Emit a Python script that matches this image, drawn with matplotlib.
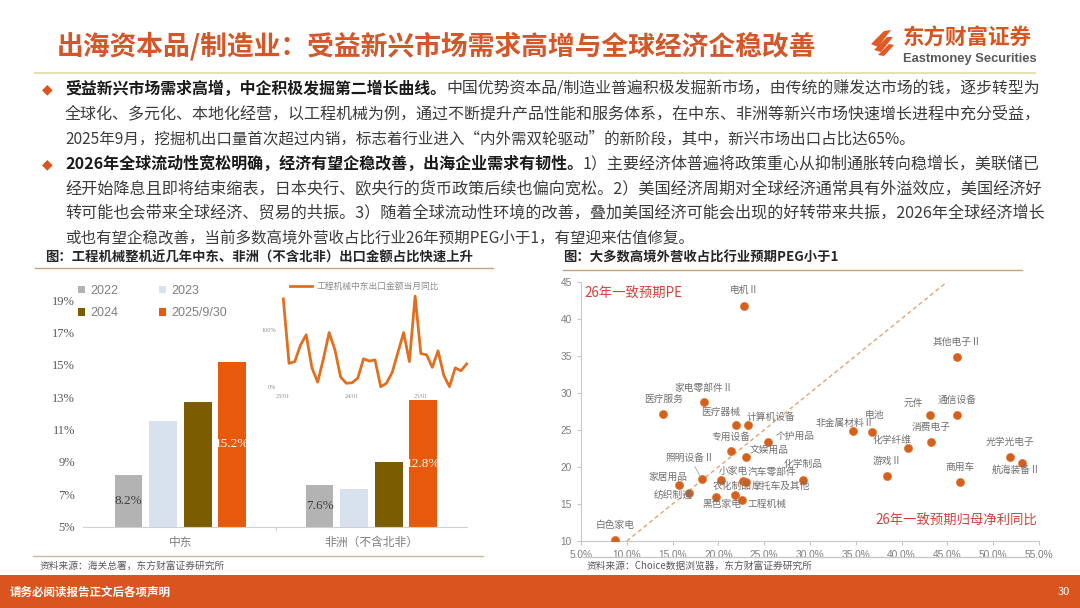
import matplotlib
matplotlib.use('Agg')
import matplotlib.pyplot as plt
from matplotlib.patches import Rectangle, Polygon
from matplotlib.lines import Line2D

plt.rcParams['font.family'] = ['Noto Sans CJK SC', 'DejaVu Sans']
plt.rcParams['axes.unicode_minus'] = False

# ---------------- data ----------------
bar_categories = ['中东', '非洲（不含北非）']
bar_series = ['2022', '2023', '2024', '2025/9/30']
share_2022 = [8.2, 7.6]
share_2023 = [11.5, 7.3]
share_2024 = [12.7, 9.0]
share_2025 = [15.2, 12.8]
bar_label_series = {'2022': ['8.2%', '7.6%'], '2025/9/30': ['15.2%', '12.8%']}
bar_yticks = [5, 7, 9, 11, 13, 15, 17, 19]

inset_months = [f'{y}/{m:02d}' for y in (23, 24, 25) for m in range(1, 13)][:33]
inset_yoy = [154, 41, 44, 73, 91, 33, 8, 49, 95, 65, 17, 6, 7, 15, 49, 45,
             47, 0, 6, 25, 60, 95, 44, 159, 58, 56, 34, 63, 20, 0, 33, 28, 40]
inset_tick_labels = ['23/01', '24/01', '25/01']
inset_legend = '工程机械中东出口金额当月同比'

scatter_names = ['电机Ⅱ', '其他电子Ⅱ', '医疗服务', '家电零部件Ⅱ', '医疗器械', '计算机设备',
                 '个护用品', '专用设备', '文娱用品', '照明设备Ⅱ', '小家电', '汽车零部件',
                 '摩托车及其他', '化学制品', '家居用品', '纺织制造', '黑色家电', '农化制品',
                 '工程机械', '白色家电', '非金属材料Ⅱ', '电池', '化学纤维', '游戏Ⅱ', '元件',
                 '通信设备', '消费电子', '商用车', '光学光电子', '航海装备Ⅱ']
scatter_growth = [22.8, 46.0, 14.0, 18.4, 21.9, 23.2, 25.4, 21.4, 23.0, 18.2, 20.3, 22.7,
                  23.0, 29.2, 15.7, 16.8, 19.7, 21.8, 22.6, 8.7, 34.7, 36.8, 40.7, 38.4,
                  43.1, 46.1, 43.2, 46.4, 51.8, 53.1]
scatter_pe = [41.7, 34.8, 27.1, 28.7, 25.7, 25.6, 23.3, 22.1, 21.4, 18.3, 18.2, 18.1,
              17.9, 18.2, 17.5, 16.5, 16.0, 16.2, 15.5, 10.1, 24.8, 24.7, 22.5, 18.8,
              27.0, 27.0, 23.4, 18.0, 21.3, 20.5]
peg_line = [10, 45.5]
scatter_xticks = [5, 10, 15, 20, 25, 30, 35, 40, 45, 50, 55]
scatter_yticks = [10, 15, 20, 25, 30, 35, 40, 45]

# label offsets in pixels (dx right, dy down) -- layout only
label_offsets = [(0, -16), (0, -15), (0, -15), (0, -15), (-15, -13), (23, -8),
                 (27, -7), (0, -14), (23, -7), (-12, -22), (12, -9), (29, -9),
                 (35, 3), (0, -16), (-11, -9), (-16, 2), (6, 7), (-3, -9),
                 (25, 4), (0, -15), (-8, -8), (2, -17), (-16, -8), (0, -15), (-17, -12),
                 (0, -15), (0, -15), (0, -15), (0, -15), (-6, 7)]

# ---------------- figure helpers ----------------
W, H = 1080, 608
fig = plt.figure(figsize=(10.8, 6.08), dpi=100)
fig.patch.set_facecolor('white')


def fx(x):
    return x / W


def fy(y):
    return 1 - y / H


def ax_rect(l, t, r, b):
    return [l / W, 1 - b / H, (r - l) / W, (b - t) / H]


def hline(x0, x1, y, color, lw=1.0):
    fig.add_artist(Line2D([fx(x0), fx(x1)], [fy(y), fy(y)], color=color, lw=lw,
                          transform=fig.transFigure))


ORANGE = '#d9541e'
renderer = fig.canvas.get_renderer()

# ---------------- header ----------------
fig.text(fx(57), fy(46), '出海资本品/制造业：受益新兴市场需求高增与全球经济企稳改善',
         fontsize=19.3, fontweight='bold', color='#d4572a', va='center', ha='left')
# logo mark
for pts in ([(871, 44), (884, 31), (891, 30), (878, 47)],
            [(874, 50), (887, 37), (893, 37), (881, 52)],
            [(878, 55), (889, 44), (894, 45), (884, 56)]):
    fig.add_artist(Polygon([(fx(a), fy(b)) for a, b in pts], closed=True,
                           facecolor='#e05a26', edgecolor='none', transform=fig.transFigure))
fig.text(fx(903), fy(38), '东方财富证券', fontsize=15.5, fontweight='bold', color=ORANGE,
         va='center', ha='left')
fig.text(fx(903), fy(59), 'Eastmoney Securities', fontsize=9.3, fontweight='bold',
         color='#595959', va='center', ha='left', family=['Liberation Sans', 'DejaVu Sans'])
hline(35, 1035, 73, '#e6e0b4', 1.5)

# ---------------- body text ----------------
BODY_FS = 11.2
paragraphs = [
    [([("受益新兴市场需求高增，中企积极发掘第二增长曲线。", True),
       ("中国优势资本品/制造业普遍积极发掘新市场，由传统的赚发达市场的钱，逐步转型为", False)], True),
     ([("全球化、多元化、本地化经营，以工程机械为例，通过不断提升产品性能和服务体系，在中东、非洲等新兴市场快速增长进程中充分受益，", False)], True),
     ([("2025年9月，挖掘机出口量首次超过内销，标志着行业进入“内外需双轮驱动”的新阶段，其中，新兴市场出口占比达65%。", False)], False)],
    [([("2026年全球流动性宽松明确，经济有望企稳改善，出海企业需求有韧性。", True),
       ("1）主要经济体普遍将政策重心从抑制通胀转向稳增长，美联储已", False)], True),
     ([("经开始降息且即将结束缩表，日本央行、欧央行的货币政策后续也偏向宽松。2）美国经济周期对全球经济通常具有外溢效应，美国经济好", False)], True),
     ([("转可能也会带来全球经济、贸易的共振。3）随着全球流动性环境的改善，叠加美国经济可能会出现的好转带来共振，2026年全球经济增长", False)], True),
     ([("或也有望企稳改善，当前多数高境外营收占比行业26年预期PEG小于1，有望迎来估值修复。", False)], False)],
]


def draw_line(parts, x0, y, fs):
    x = x0
    arts = []
    for txt, bold in parts:
        t = fig.text(fx(x), fy(y), txt, fontsize=fs, fontweight='bold' if bold else 'normal',
                     color='#1a1a1a' if bold else '#3c3c3c', va='center', ha='left')
        x += t.get_window_extent(renderer=renderer).width
        arts.append(t)
    return arts, x - x0


y = 89
for para in paragraphs:
    fig.text(fx(47), fy(y), '◆', fontsize=10, color=ORANGE, va='center', ha='center',
             family=['DejaVu Sans'])
    for parts, justify in para:
        arts, w = draw_line(parts, 65, y, BODY_FS)
        if justify:
            target = 1040 - 65
            fs = BODY_FS * target / w
            fs = max(min(fs, BODY_FS * 1.08), BODY_FS * 0.92)
            for a in arts:
                a.remove()
            draw_line(parts, 65, y, fs)
        y += 25

# ---------------- chart titles & rules ----------------
fig.text(fx(45), fy(258), '图：工程机械整机近几年中东、非洲（不含北非）出口金额占比快速上升',
         fontsize=9.6, fontweight='bold', color='#262626', va='center', ha='left')
hline(35, 493, 268, '#c9a27e', 1.0)
fig.text(fx(563), fy(258), '图：大多数高境外营收占比行业预期PEG小于1',
         fontsize=9.6, fontweight='bold', color='#262626', va='center', ha='left')
hline(563, 1022, 270, '#c9a27e', 1.0)

hline(33, 483, 556, '#c9b8a6', 1.0)
hline(583, 1028, 557, '#c8c8c8', 1.0)
fig.text(fx(40), fy(566), '资料来源：海关总署，东方财富证券研究所', fontsize=7,
         color='#595959', va='center', ha='left')
fig.text(fx(587), fy(566), '资料来源：Choice数据浏览器，东方财富证券研究所', fontsize=7,
         color='#595959', va='center', ha='left')

# ---------------- footer ----------------
fig.add_artist(Rectangle((0, 0), 1, 1 - 575 / H, transform=fig.transFigure,
                         facecolor=ORANGE, edgecolor='none'))
fig.text(fx(10), fy(592), '请务必阅读报告正文后各项声明', fontsize=8.3, fontweight='bold',
         color='white', va='center', ha='left')
fig.text(fx(1064), fy(592), '30', fontsize=8, color='white', va='center', ha='center')

# ---------------- left bar chart ----------------
SERIF = ['Liberation Serif', 'Noto Sans CJK SC']
ax1 = fig.add_axes(ax_rect(83, 283.85, 467, 526.7))
bar_colors = ['#b3b3b3', '#d8e1ee', '#7b5d00', '#e8590c']
series_vals = [share_2022, share_2023, share_2024, share_2025]
offsets = [-1.5, -0.5, 0.5, 1.5]
spacing, width = 0.181, 0.145
xs = list(range(len(bar_categories)))
handles = {}
for name, vals, col, off in zip(bar_series, series_vals, bar_colors, offsets):
    heights = [v - 5 for v in vals]
    bars = ax1.bar([x + off * spacing for x in xs], heights, width=width, bottom=5,
                   color=col, label=name)
    handles[name] = bars
    if name in bar_label_series:
        tc = 'white' if name == '2025/9/30' else '#404040'
        ax1.bar_label(bars, labels=bar_label_series[name], label_type='center',
                      fontsize=9.5, color=tc, family=SERIF)
ax1.set_xlim(-0.51, 1.5)
ax1.set_ylim(5, 20)
ax1.set_yticks(bar_yticks)
ax1.set_yticklabels([f'{v}%' for v in bar_yticks], family=SERIF, fontsize=9, color='#595959')
ax1.set_xticks(xs)
ax1.set_xticklabels(bar_categories, fontsize=8.5, color='#7f7f7f')
ax1.set_xticks([0.5], minor=True)
ax1.tick_params(axis='x', which='major', length=0, pad=6.5)
ax1.tick_params(axis='x', which='minor', length=3, color='#d0d0d0')
ax1.tick_params(axis='y', length=0, pad=5.8)
for s in ('top', 'right', 'left'):
    ax1.spines[s].set_visible(False)
ax1.spines['bottom'].set_color('#d0d0d0')
ax1.patch.set_alpha(0)
leg_order = ['2022', '2024', '2023', '2025/9/30']  # row-wise reading: 2022 2023 / 2024 2025
leg = ax1.legend([handles[n] for n in leg_order], leg_order, ncol=2, loc='center left',
                 bbox_to_anchor=(fx(78), fy(302)),
                 bbox_transform=fig.transFigure, frameon=False, borderpad=0,
                 borderaxespad=0, handlelength=0.55, handleheight=0.55,
                 handletextpad=0.4, columnspacing=3.3, labelspacing=0.85,
                 prop={'family': ['Liberation Sans'], 'size': 9})
for t in leg.get_texts():
    t.set_color('#7f7f7f')

# ---------------- inset line chart ----------------
ax2 = fig.add_axes(ax_rect(283.3, 289.8, 466.7, 386.7))
ax2.plot(range(len(inset_yoy)), inset_yoy, color='#e07020', lw=2, clip_on=False,
         label=inset_legend)
ax2.set_xlim(0, len(inset_yoy) - 1)
ax2.set_ylim(0, 170)
ax2.set_yticks([0, 100])
ax2.set_yticklabels(['0%', '100%'], fontsize=4.5, color='#909090', family=SERIF)
ax2.set_xticks([inset_months.index(m) for m in inset_tick_labels])
ax2.set_xticklabels(inset_tick_labels, fontsize=4.5, color='#909090', family=SERIF)
ax2.tick_params(length=0, pad=5)
for s in ax2.spines.values():
    s.set_visible(False)
ax2.patch.set_alpha(0)
leg2 = ax2.legend(loc='center left', bbox_to_anchor=(fx(290), fy(286.7)),
                  bbox_transform=fig.transFigure, frameon=False, borderpad=0,
                  borderaxespad=0, handlelength=2.5, handletextpad=0.5,
                  prop={'size': 6.3})
for t in leg2.get_texts():
    t.set_color('#8c8c8c')

# ---------------- scatter ----------------
ax3 = fig.add_axes(ax_rect(581, 281.6, 1039, 541))
ax3.plot(peg_line, peg_line, color='#e3a472', lw=1, ls=(0, (3, 2.2)), zorder=1)
ax3.scatter(scatter_growth, scatter_pe, s=34, color='#d4601c', edgecolors='#e07a3a',
            linewidths=0.5, zorder=3)
for name, gx, pe, (dx, dy) in zip(scatter_names, scatter_growth, scatter_pe, label_offsets):
    kw = {}
    if name == '照明设备Ⅱ':
        kw['arrowprops'] = dict(arrowstyle='-', color='#a6a6a6', lw=0.6,
                                shrinkA=1, shrinkB=3)
    ax3.annotate(name, (gx, pe), xytext=(dx, -dy), textcoords='offset pixels',
                 ha='center', va='center', fontsize=7, color='#707070', zorder=4, **kw)
ax3.set_xlim(5, 55)
ax3.set_ylim(10, 45)
ax3.set_xticks(scatter_xticks)
ax3.set_xticklabels([f'{v:.1f}%' for v in scatter_xticks], fontsize=7.3, color='#7f7f7f',
                    family=['Liberation Sans'])
ax3.set_yticks(scatter_yticks)
ax3.set_yticklabels([str(v) for v in scatter_yticks], fontsize=7.3, color='#7f7f7f',
                    family=['Liberation Sans'])
ax3.tick_params(length=3, color='#c8c8c8', pad=3.5)
for s in ('top', 'right'):
    ax3.spines[s].set_visible(False)
for s in ('left', 'bottom'):
    ax3.spines[s].set_color('#c8c8c8')
ax3.patch.set_alpha(0)
ax3.text(0.008, 0.955, '26年一致预期PE', transform=ax3.transAxes, fontsize=9.6,
         color='#d0433c', ha='left', va='center')
ax3.text(0.997, 0.079, '26年一致预期归母净利同比', transform=ax3.transAxes, fontsize=9.6,
         color='#d0433c', ha='right', va='center')

fig.savefig('out.png', dpi=100)
